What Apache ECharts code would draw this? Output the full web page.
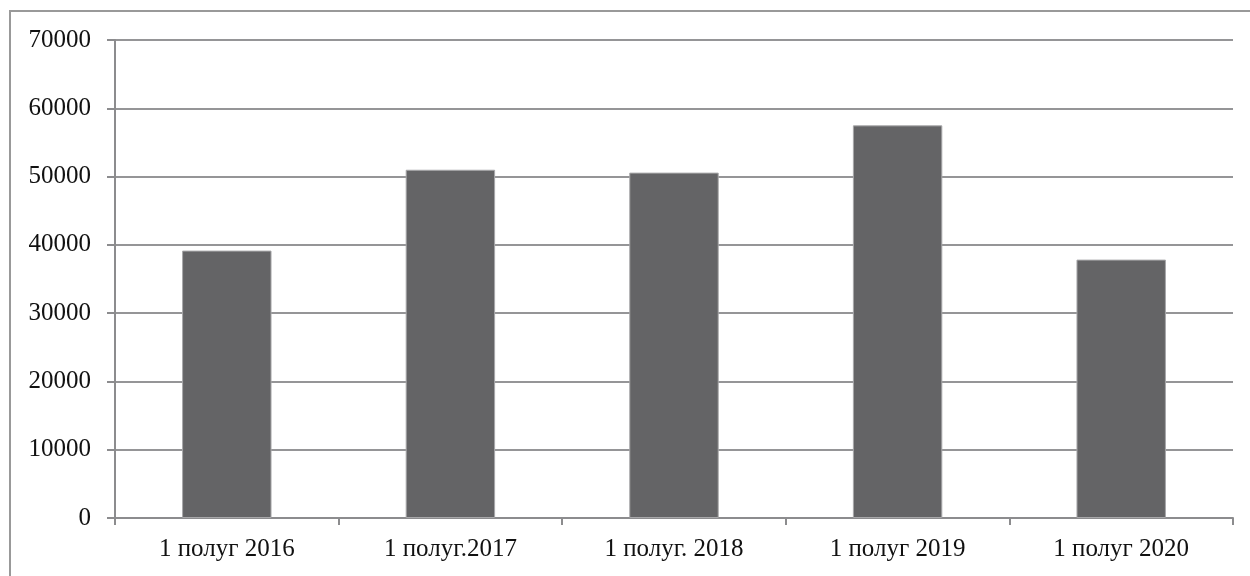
<!DOCTYPE html>
<html>
<head>
<meta charset="utf-8">
<script src="https://cdn.jsdelivr.net/npm/echarts@6/dist/echarts.min.js"></script>
<style>
  html, body { margin: 0; padding: 0; background: #fff; }
  #frame {
    position: absolute; left: 9px; top: 10px; width: 1260px; height: 600px;
    border: 2px solid #999; box-sizing: border-box;
  }
  #chart { position: absolute; left: 0; top: 0; width: 1250px; height: 576px; }
</style>
</head>
<body>
<div id="frame"></div>
<div id="chart"></div>
<script>
var categories = ['1 полуг 2016', '1 полуг.2017', '1 полуг. 2018', '1 полуг 2019', '1 полуг 2020'];
var values = [39160, 51000, 50580, 57500, 37840];

var chart = echarts.init(document.getElementById('chart'));
var axisColor = '#8c8c8e';
var option = {
  animation: false,
  textStyle: { fontFamily: 'Liberation Serif' },
  grid: { left: 115, right: 17, top: 40, bottom: 58 },
  xAxis: {
    type: 'category',
    data: categories,
    axisLine: { show: true, lineStyle: { color: axisColor, width: 2 } },
    axisTick: { show: true, alignWithLabel: false, length: 7, lineStyle: { color: axisColor, width: 2 } },
    axisLabel: { color: '#111', fontSize: 25, margin: 19, fontFamily: 'Liberation Serif' },
    splitLine: { show: false }
  },
  yAxis: {
    type: 'value',
    min: 0,
    max: 70000,
    interval: 10000,
    axisLine: { show: true, lineStyle: { color: axisColor, width: 2 } },
    axisTick: { show: true, length: 8, lineStyle: { color: axisColor, width: 2 } },
    axisLabel: {
      color: '#111', fontSize: 25, margin: 24, fontFamily: 'Liberation Serif',
      formatter: function (v) { return String(v); }
    },
    splitLine: { show: true, lineStyle: { color: '#959597', width: 2 } }
  },
  series: [{
    type: 'bar',
    data: values,
    barWidth: '40%',
    itemStyle: { color: '#646466', borderColor: '#a8a8aa', borderWidth: 1 }
  }]
};
chart.setOption(option);
</script>
</body>
</html>
